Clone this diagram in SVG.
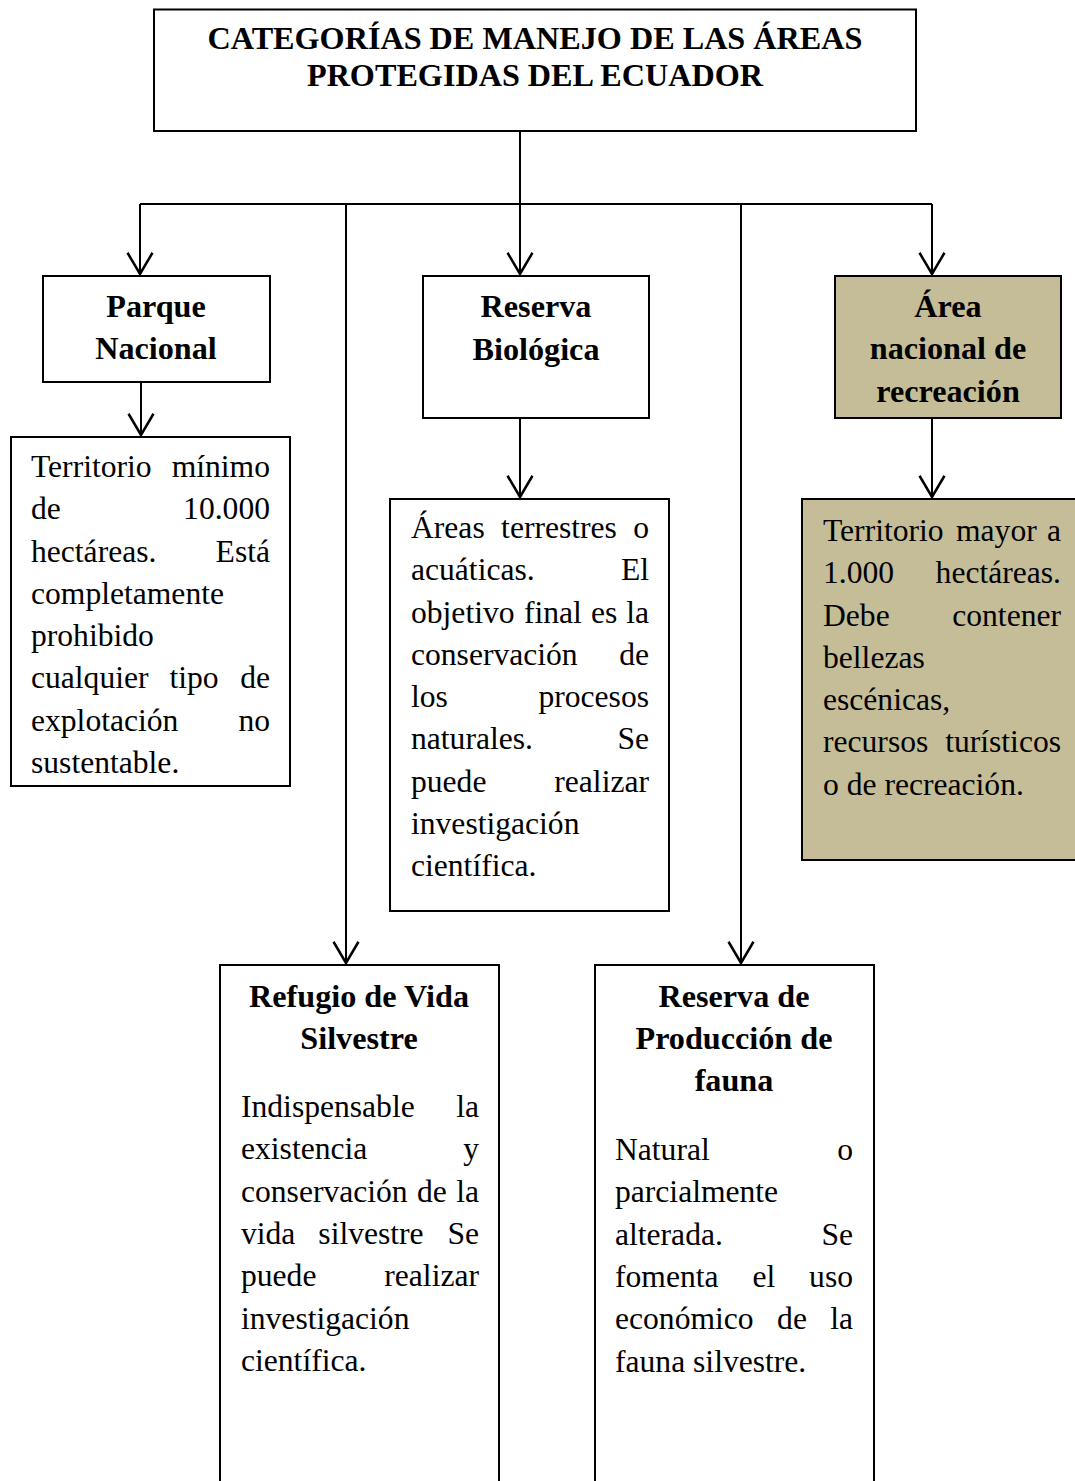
<svg xmlns="http://www.w3.org/2000/svg" width="1075" height="1481" viewBox="0 0 1075 1481">
<defs>
<style>
.box{fill:#fff;stroke:#000;stroke-width:2}
.tan{fill:#C4BD97;stroke:#000;stroke-width:2}
.b{font-family:"Liberation Serif","Times New Roman",serif;font-weight:bold;font-size:32.2px;text-anchor:middle;fill:#000}
.t{font-family:"Liberation Serif","Times New Roman",serif;font-size:31.6px;fill:#000}
.e{text-anchor:end}
.m{text-anchor:middle}
.c{fill:none;stroke:#000;stroke-width:2}
</style>
<marker id="v" markerUnits="userSpaceOnUse" markerWidth="30" markerHeight="30" viewBox="-20 -12 22 24" refX="0" refY="0" orient="auto">
<path d="M-17,-10 L0,0 L-17,10" fill="none" stroke="#000" stroke-width="2"/>
</marker>
</defs>
<rect width="1075" height="1481" fill="#fff"/>
<g id="connectors">
<path class="c" d="M520,131 V204"/>
<path class="c" d="M140,204 H932"/>
<path class="c" d="M140,204 V274" marker-end="url(#v)"/>
<path class="c" d="M520,204 V274" marker-end="url(#v)"/>
<path class="c" d="M932,204 V274" marker-end="url(#v)"/>
<path class="c" d="M346,204 V963" marker-end="url(#v)"/>
<path class="c" d="M741,204 V963" marker-end="url(#v)"/>
<path class="c" d="M141,382 V435" marker-end="url(#v)"/>
<path class="c" d="M520,418 V497" marker-end="url(#v)"/>
<path class="c" d="M932,418 V497" marker-end="url(#v)"/>
</g>
<g id="title">
<rect class="box" x="154" y="9.5" width="762" height="121.5"/>
<text class="b" x="535" y="49">CATEGORÍAS DE MANEJO DE LAS ÁREAS</text>
<text class="b" x="535" y="86">PROTEGIDAS DEL ECUADOR</text>
</g>
<g id="parque-nacional">
<rect class="box" x="43" y="276" width="227" height="106"/>
<text class="b" x="156" y="317">Parque</text>
<text class="b" x="156" y="359">Nacional</text>
</g>
<g id="parque-desc">
<rect class="box" x="11" y="437" width="279" height="349"/>
<text class="t" y="477"><tspan x="31">Territorio</tspan><tspan class="e" x="270">mínimo</tspan></text>
<text class="t" y="519"><tspan x="31">de</tspan><tspan class="e" x="270">10.000</tspan></text>
<text class="t" y="562"><tspan x="31">hectáreas.</tspan><tspan class="e" x="270">Está</tspan></text>
<text class="t" x="31" y="604">completamente</text>
<text class="t" x="31" y="646">prohibido</text>
<text class="t" y="688"><tspan x="31">cualquier</tspan><tspan class="m" x="194">tipo</tspan><tspan class="e" x="270">de</tspan></text>
<text class="t" y="731"><tspan x="31">explotación</tspan><tspan class="e" x="270">no</tspan></text>
<text class="t" x="31" y="773">sustentable.</text>
</g>
<g id="reserva-biologica">
<rect class="box" x="423" y="276" width="226" height="142"/>
<text class="b" x="536" y="317">Reserva</text>
<text class="b" x="536" y="360">Biológica</text>
</g>
<g id="reserva-biologica-desc">
<rect class="box" x="390" y="499" width="279" height="412"/>
<text class="t" y="538"><tspan x="411">Áreas</tspan><tspan class="m" x="559">terrestres</tspan><tspan class="e" x="649">o</tspan></text>
<text class="t" y="580"><tspan x="411">acuáticas.</tspan><tspan class="e" x="649">El</tspan></text>
<text class="t" y="623"><tspan x="411">objetivo</tspan><tspan x="524">final</tspan><tspan x="591">es</tspan><tspan class="e" x="649">la</tspan></text>
<text class="t" y="665"><tspan x="411">conservación</tspan><tspan class="e" x="649">de</tspan></text>
<text class="t" y="707"><tspan x="411">los</tspan><tspan class="e" x="649">procesos</tspan></text>
<text class="t" y="749"><tspan x="411">naturales.</tspan><tspan class="e" x="649">Se</tspan></text>
<text class="t" y="792"><tspan x="411">puede</tspan><tspan class="e" x="649">realizar</tspan></text>
<text class="t" x="411" y="834">investigación</text>
<text class="t" x="411" y="876">científica.</text>
</g>
<g id="area-nacional-recreacion">
<rect class="tan" x="835" y="276" width="226" height="142"/>
<text class="b" x="948" y="317">Área</text>
<text class="b" x="948" y="359">nacional de</text>
<text class="b" x="948" y="402">recreación</text>
</g>
<g id="area-nacional-desc">
<rect class="tan" x="802" y="499" width="290" height="361"/>
<text class="t" y="541"><tspan x="823">Territorio</tspan><tspan x="956">mayor</tspan><tspan class="e" x="1061">a</tspan></text>
<text class="t" y="583"><tspan x="823">1.000</tspan><tspan class="e" x="1061">hectáreas.</tspan></text>
<text class="t" y="626"><tspan x="823">Debe</tspan><tspan class="e" x="1061">contener</tspan></text>
<text class="t" x="823" y="668">bellezas</text>
<text class="t" x="823" y="710">escénicas,</text>
<text class="t" y="752"><tspan x="823">recursos</tspan><tspan class="e" x="1061">turísticos</tspan></text>
<text class="t" x="823" y="795">o de recreación.</text>
</g>
<g id="refugio-vida-silvestre">
<rect class="box" x="220" y="965" width="279" height="540"/>
<text class="b" x="359" y="1007">Refugio de Vida</text>
<text class="b" x="359" y="1049">Silvestre</text>
<text class="t" y="1117"><tspan x="241">Indispensable</tspan><tspan class="e" x="479">la</tspan></text>
<text class="t" y="1159"><tspan x="241">existencia</tspan><tspan class="e" x="479">y</tspan></text>
<text class="t" y="1202"><tspan x="241">conservación</tspan><tspan x="417">de</tspan><tspan class="e" x="479">la</tspan></text>
<text class="t" y="1244"><tspan x="241">vida</tspan><tspan class="m" x="371">silvestre</tspan><tspan class="e" x="479">Se</tspan></text>
<text class="t" y="1286"><tspan x="241">puede</tspan><tspan class="e" x="479">realizar</tspan></text>
<text class="t" x="241" y="1329">investigación</text>
<text class="t" x="241" y="1371">científica.</text>
</g>
<g id="reserva-produccion-fauna">
<rect class="box" x="595" y="965" width="279" height="540"/>
<text class="b" x="734" y="1007">Reserva de</text>
<text class="b" x="734" y="1049">Producción de</text>
<text class="b" x="734" y="1091">fauna</text>
<text class="t" y="1160"><tspan x="615">Natural</tspan><tspan class="e" x="853">o</tspan></text>
<text class="t" x="615" y="1202">parcialmente</text>
<text class="t" y="1245"><tspan x="615">alterada.</tspan><tspan class="e" x="853">Se</tspan></text>
<text class="t" y="1287"><tspan x="615">fomenta</tspan><tspan class="m" x="764">el</tspan><tspan class="e" x="853">uso</tspan></text>
<text class="t" y="1329"><tspan x="615">económico</tspan><tspan class="m" x="792">de</tspan><tspan class="e" x="853">la</tspan></text>
<text class="t" x="615" y="1372">fauna silvestre.</text>
</g>
</svg>
